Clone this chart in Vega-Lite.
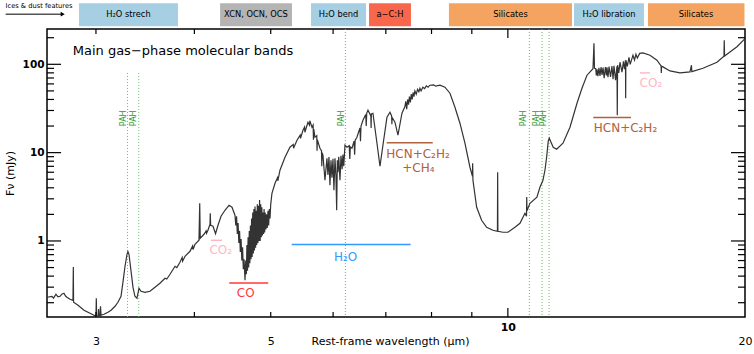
{
  "$schema": "https://vega.github.io/schema/vega-lite/v6.json",
  "width": 698,
  "height": 288,
  "autosize": {"type": "none"},
  "padding": {"left": 47, "top": 29, "right": 9, "bottom": 37},
  "background": "white",
  "config": {
    "view": {"stroke": "black", "strokeWidth": 1.5},
    "font": "DejaVu Sans",
    "axis": {"domain": false, "grid": false, "labelColor": "black", "titleColor": "black", "labelFont": "DejaVu Sans", "titleFont": "DejaVu Sans"}
  },
  "datasets": {
    "spec": [
      {"w":2.600,"f":0.2304},{"w":2.638,"f":0.2364},{"w":2.650,"f":0.2250},{"w":2.669,"f":0.2490},{"w":2.685,"f":0.2330},{"w":2.701,"f":0.2364},{"w":2.715,"f":0.2500},{"w":2.732,"f":0.2556},{"w":2.745,"f":0.2380},{"w":2.756,"f":0.2304},{"w":2.781,"f":0.2187},{"w":2.805,"f":0.2130},{"w":2.808,"f":0.5077},{"w":2.810,"f":0.2022},{"w":2.847,"f":0.1870},{"w":2.897,"f":0.1641},{"w":2.948,"f":0.1518},{"w":2.983,"f":0.1441},{"w":3.000,"f":0.1404},{"w":3.003,"f":0.2244},{"w":3.006,"f":0.1404},{"w":3.020,"f":0.1420},{"w":3.023,"f":0.1700},{"w":3.026,"f":0.1420},{"w":3.035,"f":0.1404},{"w":3.040,"f":0.1822},{"w":3.045,"f":0.1441},{"w":3.071,"f":0.1479},{"w":3.107,"f":0.1558},{"w":3.135,"f":0.1641},{"w":3.172,"f":0.1822},{"w":3.199,"f":0.2022},{"w":3.228,"f":0.2364},{"w":3.246,"f":0.3404},{"w":3.266,"f":0.5170},{"w":3.285,"f":0.7069},{"w":3.294,"f":0.7600},{"w":3.304,"f":0.7069},{"w":3.323,"f":0.4658},{"w":3.343,"f":0.2990},{"w":3.362,"f":0.2364},{"w":3.382,"f":0.2244},{"w":3.402,"f":0.2913},{"w":3.422,"f":0.2694},{"w":3.462,"f":0.2624},{"w":3.513,"f":0.2694},{"w":3.565,"f":0.2990},{"w":3.617,"f":0.3319},{"w":3.671,"f":0.3780},{"w":3.690,"f":0.3700},{"w":3.725,"f":0.4197},{"w":3.780,"f":0.5170},{"w":3.800,"f":0.5000},{"w":3.835,"f":0.5739},{"w":3.860,"f":0.6500},{"w":3.865,"f":0.5900},{"w":3.892,"f":0.6712},{"w":3.949,"f":0.7643},{"w":3.980,"f":0.8800},{"w":3.985,"f":0.8000},{"w":4.007,"f":0.9176},{"w":4.054,"f":1.018},{"w":4.063,"f":2.673},{"w":4.069,"f":1.073},{"w":4.114,"f":1.191},{"w":4.140,"f":1.300},{"w":4.145,"f":1.220},{"w":4.162,"f":1.322},{"w":4.187,"f":1.546},{"w":4.190,"f":2.059},{"w":4.195,"f":1.50},{"w":4.224,"f":1.467},{"w":4.255,"f":1.21},{"w":4.286,"f":1.506},{"w":4.324,"f":1.905},{"w":4.374,"f":2.227},{"w":4.426,"f":2.537},{"w":4.465,"f":2.408},{"w":4.504,"f":1.955},{"w":4.515,"f":1.5},{"w":4.525,"f":1.9},{"w":4.535,"f":1.2},{"w":4.545,"f":1.6},{"w":4.555,"f":0.95},{"w":4.565,"f":1.3},{"w":4.575,"f":0.75},{"w":4.585,"f":1.05},{"w":4.595,"f":0.6},{"w":4.605,"f":0.85},{"w":4.615,"f":0.48},{"w":4.625,"f":0.62},{"w":4.638,"f":0.36},{"w":4.648,"f":0.6},{"w":4.656,"f":0.42},{"w":4.664,"f":0.9},{"w":4.672,"f":0.46},{"w":4.680,"f":1.1},{"w":4.688,"f":0.5},{"w":4.696,"f":1.3},{"w":4.704,"f":0.56},{"w":4.712,"f":1.5},{"w":4.720,"f":0.62},{"w":4.728,"f":1.8},{"w":4.736,"f":0.66},{"w":4.744,"f":2.1},{"w":4.752,"f":0.72},{"w":4.760,"f":2.3},{"w":4.768,"f":0.78},{"w":4.776,"f":2.45},{"w":4.784,"f":0.84},{"w":4.792,"f":2.2},{"w":4.800,"f":0.9},{"w":4.808,"f":2.6},{"w":4.816,"f":0.95},{"w":4.824,"f":2.5},{"w":4.832,"f":1.0},{"w":4.840,"f":2.9},{"w":4.848,"f":1.0},{"w":4.856,"f":2.6},{"w":4.864,"f":1.1},{"w":4.872,"f":2.4},{"w":4.880,"f":1.15},{"w":4.888,"f":2.1},{"w":4.896,"f":1.2},{"w":4.904,"f":2.3},{"w":4.912,"f":1.25},{"w":4.920,"f":2.1},{"w":4.930,"f":1.35},{"w":4.940,"f":2.0},{"w":4.950,"f":1.4},{"w":4.960,"f":2.2},{"w":4.970,"f":1.5},{"w":4.980,"f":2.3},{"w":4.990,"f":1.8},{"w":5.000,"f":2.6},{"w":5.018,"f":3.469},{"w":5.063,"f":4.503},{"w":5.100,"f":5.2},{"w":5.105,"f":4.8},{"w":5.137,"f":6.319},{"w":5.213,"f":8.871},{"w":5.289,"f":11.51},{"w":5.340,"f":12.4},{"w":5.345,"f":11.2},{"w":5.399,"f":13.81},{"w":5.450,"f":15.8},{"w":5.455,"f":14.5},{"w":5.494,"f":17.94},{"w":5.520,"f":19.5},{"w":5.525,"f":17.0},{"w":5.575,"f":22.10},{"w":5.600,"f":20.5},{"w":5.605,"f":23.0},{"w":5.641,"f":19.40},{"w":5.660,"f":20.5},{"w":5.665,"f":14.0},{"w":5.670,"f":18.5},{"w":5.690,"f":14.94},{"w":5.720,"f":15.5},{"w":5.725,"f":10.5},{"w":5.730,"f":14.0},{"w":5.774,"f":11.22},{"w":5.800,"f":10.5},{"w":5.805,"f":7.0},{"w":5.810,"f":10.0},{"w":5.825,"f":9.345},{"w":5.859,"f":4.869},{"w":5.893,"f":8.643},{"w":5.910,"f":5.6},{"w":5.928,"f":8.9},{"w":5.945,"f":4.272},{"w":5.963,"f":8.203},{"w":5.980,"f":5.2},{"w":5.998,"f":8.5},{"w":6.015,"f":3.751},{"w":6.033,"f":8.643},{"w":6.050,"f":5.5},{"w":6.063,"f":2.227},{"w":6.075,"f":8.2},{"w":6.086,"f":6.0},{"w":6.100,"f":9.0},{"w":6.122,"f":4.869},{"w":6.140,"f":9.2},{"w":6.160,"f":6.5},{"w":6.175,"f":9.5},{"w":6.190,"f":7.0},{"w":6.212,"f":12.13},{"w":6.248,"f":11.51},{"w":6.290,"f":12.0},{"w":6.300,"f":8.5},{"w":6.310,"f":11.6},{"w":6.340,"f":11.22},{"w":6.380,"f":13.5},{"w":6.390,"f":9.5},{"w":6.400,"f":13.8},{"w":6.433,"f":14.94},{"w":6.490,"f":19.0},{"w":6.500,"f":13.5},{"w":6.510,"f":20.0},{"w":6.547,"f":23.28},{"w":6.600,"f":27.0},{"w":6.610,"f":20.0},{"w":6.620,"f":28.0},{"w":6.644,"f":30.21},{"w":6.700,"f":26.0},{"w":6.705,"f":19.0},{"w":6.710,"f":27.5},{"w":6.741,"f":27.94},{"w":6.821,"f":12.78},{"w":6.881,"f":7.015},{"w":6.941,"f":12.13},{"w":7.023,"f":25.17},{"w":7.085,"f":28.68},{"w":7.120,"f":26.0},{"w":7.125,"f":21.0},{"w":7.130,"f":25.0},{"w":7.189,"f":22.10},{"w":7.252,"f":15.74},{"w":7.338,"f":27.94},{"w":7.400,"f":33.0},{"w":7.420,"f":38.0},{"w":7.440,"f":31.0},{"w":7.460,"f":40.0},{"w":7.480,"f":35.0},{"w":7.500,"f":43.0},{"w":7.520,"f":37.0},{"w":7.540,"f":46.0},{"w":7.560,"f":40.0},{"w":7.580,"f":48.0},{"w":7.600,"f":43.0},{"w":7.620,"f":50.0},{"w":7.650,"f":46.0},{"w":7.680,"f":52.0},{"w":7.710,"f":49.0},{"w":7.734,"f":53.62},{"w":7.760,"f":50.0},{"w":7.800,"f":55.0},{"w":7.840,"f":53.0},{"w":7.880,"f":57.0},{"w":7.920,"f":55.0},{"w":7.963,"f":57.99},{"w":8.050,"f":58.5},{"w":8.100,"f":56.5},{"w":8.200,"f":57.99},{"w":8.320,"f":55.04},{"w":8.443,"f":47.07},{"w":8.567,"f":32.68},{"w":8.693,"f":21.53},{"w":8.821,"f":12.78},{"w":8.951,"f":6.833},{"w":9.017,"f":5.404},{"w":9.022,"f":7.586},{"w":9.030,"f":4.869},{"w":9.128,"f":2.408},{"w":9.262,"f":1.716},{"w":9.399,"f":1.429},{"w":9.573,"f":1.322},{"w":9.700,"f":1.288},{"w":9.706,"f":5.998},{"w":9.713,"f":1.288},{"w":9.857,"f":1.255},{"w":10.003,"f":1.255},{"w":10.209,"f":1.429},{"w":10.360,"f":1.586},{"w":10.512,"f":2.059},{"w":10.560,"f":1.9},{"w":10.567,"f":3.15},{"w":10.575,"f":2.2},{"w":10.667,"f":2.673},{"w":10.887,"f":3.126},{"w":10.983,"f":4.057},{"w":11.080,"f":4.869},{"w":11.145,"f":6.319},{"w":11.200,"f":8.871},{"w":11.253,"f":13.46},{"w":11.286,"f":14.56},{"w":11.418,"f":11.51},{"w":11.532,"f":10.93},{"w":11.748,"f":12.78},{"w":11.991,"f":19.40},{"w":12.239,"f":36.26},{"w":12.419,"f":53.62},{"w":12.602,"f":75.26},{"w":12.825,"f":89.18},{"w":12.862,"f":173.4},{"w":12.881,"f":90.34},{"w":12.930,"f":89.0},{"w":12.950,"f":75.0},{"w":12.977,"f":88.0},{"w":13.010,"f":73.3},{"w":13.050,"f":91.0},{"w":13.090,"f":74.0},{"w":13.130,"f":92.73},{"w":13.170,"f":76.0},{"w":13.207,"f":92.0},{"w":13.250,"f":69.6},{"w":13.300,"f":93.0},{"w":13.340,"f":75.0},{"w":13.361,"f":92.73},{"w":13.400,"f":71.4},{"w":13.441,"f":94.0},{"w":13.500,"f":72.0},{"w":13.557,"f":95.18},{"w":13.600,"f":68.0},{"w":13.637,"f":96.0},{"w":13.700,"f":66.06},{"w":13.757,"f":95.18},{"w":13.769,"f":26.52},{"w":13.781,"f":97.68},{"w":13.830,"f":80.0},{"w":13.878,"f":105.6},{"w":13.959,"f":81.37},{"w":14.020,"f":108.0},{"w":14.060,"f":88.0},{"w":14.103,"f":111.3},{"w":14.111,"f":41.31},{"w":14.119,"f":111.3},{"w":14.180,"f":95.0},{"w":14.248,"f":120.0},{"w":14.300,"f":100.0},{"w":14.415,"f":126.8},{"w":14.480,"f":112.0},{"w":14.541,"f":130.0},{"w":14.600,"f":118.0},{"w":14.700,"f":133.0},{"w":14.842,"f":134.6},{"w":15.149,"f":126.8},{"w":15.462,"f":111.3},{"w":15.650,"f":96.0},{"w":15.660,"f":80.0},{"w":15.670,"f":95.0},{"w":15.736,"f":93.45},{"w":16.061,"f":84.20},{"w":16.537,"f":79.91},{"w":17.028,"f":82.02},{"w":17.103,"f":97.68},{"w":17.120,"f":82.5},{"w":17.688,"f":90.34},{"w":18.426,"f":105.6},{"w":18.807,"f":123.5},{"w":18.823,"f":187.5},{"w":18.840,"f":124.0},{"w":19.196,"f":140.7},{"w":19.536,"f":158.2},{"w":20.0,"f":195.0}
    ],
    "xminor": [{"v":3},{"v":4},{"v":5},{"v":6},{"v":7},{"v":8},{"v":9}],
    "xmajor": [{"v":10}],
    "yminor": [{"v":0.2},{"v":0.3},{"v":0.4},{"v":0.5},{"v":0.6},{"v":0.7},{"v":0.8},{"v":0.9},{"v":2},{"v":3},{"v":4},{"v":5},{"v":6},{"v":7},{"v":8},{"v":9},{"v":20},{"v":30},{"v":40},{"v":50},{"v":60},{"v":70},{"v":80},{"v":90},{"v":200}],
    "ymajor": [{"v":1},{"v":10},{"v":100}],
    "pah": [
      {"w":3.29,"top":79.9},{"w":3.40,"top":79.9},{"w":6.22,"top":251},{"w":10.65,"top":251},{"w":11.05,"top":251},{"w":11.28,"top":251}
    ],
    "pahlab": [
      {"w":3.259,"f":24.5},{"w":3.356,"f":24.5},{"w":6.157,"f":24.5},{"w":10.48,"f":24.5},{"w":10.88,"f":24.5},{"w":11.12,"f":24.5}
    ],
    "bands": [
      {"w1":4.199,"w2":4.336,"f":1.018,"cat":"CO2"},
      {"w1":4.429,"w2":4.964,"f":0.3344,"cat":"CO"},
      {"w1":5.316,"w2":7.526,"f":0.9104,"cat":"H2O"},
      {"w1":7.017,"w2":8.028,"f":12.94,"cat":"HCN"},
      {"w1":12.836,"w2":14.331,"f":24.98,"cat":"HCN"},
      {"w1":14.711,"w2":15.149,"f":79.9,"cat":"CO2"}
    ],
    "btext": [
      {"t":"CO₂","w":4.320,"f":0.7847,"cat":"CO2"},
      {"t":"CO","w":4.648,"f":0.2577,"cat":"CO"},
      {"t":"H₂O","w":6.224,"f":0.6657,"cat":"H2O"},
      {"t":"HCN+C₂H₂","w":7.691,"f":9.77,"cat":"HCN"},
      {"t":"+CH₄","w":7.70,"f":6.78,"cat":"HCN"},
      {"t":"HCN+C₂H₂","w":14.103,"f":19.24,"cat":"HCN"},
      {"t":"CO₂","w":15.19,"f":62.2,"cat":"CO2"}
    ],
    "boxes": [
      {"t":"H₂O strech","x1":2.855,"x2":3.813,"xm":3.299,"cat":"water"},
      {"t":"XCN, OCN, OCS","x1":4.312,"x2":5.321,"xm":4.789,"cat":"xcn"},
      {"t":"H₂O bend","x1":5.625,"x2":6.606,"xm":6.095,"cat":"water"},
      {"t":"a−C:H","x1":6.665,"x2":7.533,"xm":7.085,"cat":"ach"},
      {"t":"Silicates","x1":8.418,"x2":12.061,"xm":10.076,"cat":"sil"},
      {"t":"H₂O libration","x1":12.132,"x2":14.886,"xm":13.44,"cat":"water"},
      {"t":"Silicates","x1":15.061,"x2":19.97,"xm":17.33,"cat":"sil"}
    ]
  },
  "layer": [
    {
      "data": {"name": "boxes"},
      "mark": {"type": "rect", "clip": false},
      "encoding": {
        "x": {"field": "x1", "type": "quantitative", "scale": {"type": "log", "domain": [2.6, 20], "nice": false},
              "axis": {"orient": "bottom", "values": [3, 5, 20], "ticks": false, "labelPadding": 24, "labelBaseline": "middle", "labelFontSize": 11, "labelFlush": false, "labelExpr": "format(datum.value, '~g')",
                       "title": "Rest-frame wavelength (μm)", "titleX": 343, "titleY": 24, "titleBaseline": "middle", "titleFontSize": 11, "titleFontWeight": "normal"}},
        "x2": {"field": "x2"},
        "y": {"datum": 270, "type": "quantitative", "scale": {"type": "log", "domain": [0.1378, 251], "nice": false}, "axis": null},
        "y2": {"datum": 492},
        "fill": {"field": "cat", "type": "nominal", "scale": {"domain": ["water", "xcn", "ach", "sil"], "range": ["#a6cfe3", "#b4b4b4", "#f8664b", "#f4a460"]}, "legend": null}
      }
    },
    {
      "data": {"name": "boxes"},
      "mark": {"type": "text", "fontSize": 8.3, "color": "black", "font": "DejaVu Sans", "baseline": "middle", "align": "center"},
      "encoding": {
        "x": {"field": "xm", "type": "quantitative", "scale": {"type": "log", "domain": [2.6, 20], "nice": false}, "axis": null},
        "y": {"datum": 364.5, "type": "quantitative", "scale": {"type": "log", "domain": [0.1378, 251], "nice": false}, "axis": null},
        "text": {"field": "t"}
      }
    },
    {
      "data": {"name": "pah"},
      "mark": {"type": "rule", "color": "#66bb66", "strokeDash": [1, 2], "strokeWidth": 1},
      "encoding": {
        "x": {"field": "w", "type": "quantitative", "scale": {"type": "log", "domain": [2.6, 20], "nice": false}, "axis": null},
        "y": {"field": "top", "type": "quantitative", "scale": {"type": "log", "domain": [0.1378, 251], "nice": false}, "axis": null},
        "y2": {"datum": 0.1378}
      }
    },
    {
      "data": {"name": "spec"},
      "mark": {"type": "line", "color": "#333333", "strokeWidth": 1.2},
      "encoding": {
        "x": {"field": "w", "type": "quantitative", "scale": {"type": "log", "domain": [2.6, 20], "nice": false}, "axis": null},
        "y": {"field": "f", "type": "quantitative", "scale": {"type": "log", "domain": [0.1378, 251], "nice": false}, "axis": null}
      }
    },
    {
      "data": {"name": "xminor"},
      "mark": {"type": "rule", "color": "black", "strokeWidth": 1.2},
      "encoding": {
        "x": {"field": "v", "type": "quantitative", "scale": {"type": "log", "domain": [2.6, 20], "nice": false}, "axis": null},
        "y": {"datum": 0.1378, "type": "quantitative", "scale": {"type": "log", "domain": [0.1378, 251], "nice": false}, "axis": null},
        "y2": {"datum": 0.157}
      }
    },
    {
      "data": {"name": "xminor"},
      "mark": {"type": "rule", "color": "black", "strokeWidth": 1.2},
      "encoding": {
        "x": {"field": "v", "type": "quantitative", "scale": {"type": "log", "domain": [2.6, 20], "nice": false}, "axis": null},
        "y": {"datum": 220.3, "type": "quantitative", "scale": {"type": "log", "domain": [0.1378, 251], "nice": false}, "axis": null},
        "y2": {"datum": 251}
      }
    },
    {
      "data": {"name": "xmajor"},
      "mark": {"type": "rule", "color": "black", "strokeWidth": 1.2},
      "encoding": {
        "x": {"field": "v", "type": "quantitative", "scale": {"type": "log", "domain": [2.6, 20], "nice": false}, "axis": null},
        "y": {"datum": 0.1378, "type": "quantitative", "scale": {"type": "log", "domain": [0.1378, 251], "nice": false}, "axis": null},
        "y2": {"datum": 0.1743}
      }
    },
    {
      "data": {"name": "xmajor"},
      "mark": {"type": "rule", "color": "black", "strokeWidth": 1.2},
      "encoding": {
        "x": {"field": "v", "type": "quantitative", "scale": {"type": "log", "domain": [2.6, 20], "nice": false}, "axis": null},
        "y": {"datum": 198.4, "type": "quantitative", "scale": {"type": "log", "domain": [0.1378, 251], "nice": false}, "axis": null},
        "y2": {"datum": 251}
      }
    },
    {
      "data": {"name": "yminor"},
      "mark": {"type": "rule", "color": "black", "strokeWidth": 1.2},
      "encoding": {
        "x": {"datum": 2.6, "type": "quantitative", "scale": {"type": "log", "domain": [2.6, 20], "nice": false}, "axis": null},
        "x2": {"datum": 2.654},
        "y": {"field": "v", "type": "quantitative", "scale": {"type": "log", "domain": [0.1378, 251], "nice": false}, "axis": null}
      }
    },
    {
      "data": {"name": "yminor"},
      "mark": {"type": "rule", "color": "black", "strokeWidth": 1.2},
      "encoding": {
        "x": {"datum": 19.594, "type": "quantitative", "scale": {"type": "log", "domain": [2.6, 20], "nice": false}, "axis": null},
        "x2": {"datum": 20},
        "y": {"field": "v", "type": "quantitative", "scale": {"type": "log", "domain": [0.1378, 251], "nice": false}, "axis": null}
      }
    },
    {
      "data": {"name": "ymajor"},
      "mark": {"type": "rule", "color": "black", "strokeWidth": 1.2},
      "encoding": {
        "x": {"datum": 2.6, "type": "quantitative", "scale": {"type": "log", "domain": [2.6, 20], "nice": false}, "axis": null},
        "x2": {"datum": 2.709},
        "y": {"field": "v", "type": "quantitative", "scale": {"type": "log", "domain": [0.1378, 251], "nice": false}, "axis": null}
      }
    },
    {
      "data": {"name": "ymajor"},
      "mark": {"type": "rule", "color": "black", "strokeWidth": 1.2},
      "encoding": {
        "x": {"datum": 19.198, "type": "quantitative", "scale": {"type": "log", "domain": [2.6, 20], "nice": false}, "axis": null},
        "x2": {"datum": 20},
        "y": {"field": "v", "type": "quantitative", "scale": {"type": "log", "domain": [0.1378, 251], "nice": false}, "axis": null}
      }
    },
    {
      "data": {"name": "bands"},
      "mark": {"type": "rule", "strokeWidth": 1.4},
      "encoding": {
        "x": {"field": "w1", "type": "quantitative", "scale": {"type": "log", "domain": [2.6, 20], "nice": false}, "axis": null},
        "x2": {"field": "w2"},
        "y": {"field": "f", "type": "quantitative", "scale": {"type": "log", "domain": [0.1378, 251], "nice": false}, "axis": null},
        "color": {"field": "cat", "type": "nominal", "scale": {"domain": ["CO2", "CO", "H2O", "HCN"], "range": ["#ffb6c1", "#ff3a3a", "#3399ff", "#b0603c"]}, "legend": null}
      }
    },
    {
      "data": {"name": "btext"},
      "mark": {"type": "text", "fontSize": 12, "font": "DejaVu Sans", "baseline": "middle", "align": "center"},
      "encoding": {
        "x": {"field": "w", "type": "quantitative", "scale": {"type": "log", "domain": [2.6, 20], "nice": false}, "axis": null},
        "y": {"field": "f", "type": "quantitative", "scale": {"type": "log", "domain": [0.1378, 251], "nice": false}, "axis": null},
        "text": {"field": "t"},
        "color": {"field": "cat", "type": "nominal", "scale": {"domain": ["CO2", "CO", "H2O", "HCN"], "range": ["#ffb6c1", "#ff3a3a", "#3399ff", "#b0603c"]}, "legend": null}
      }
    },
    {
      "data": {"name": "pahlab"},
      "mark": {"type": "text", "angle": 270, "fontSize": 8, "color": "#2e9a2e", "font": "DejaVu Sans", "baseline": "middle", "align": "center"},
      "encoding": {
        "x": {"field": "w", "type": "quantitative", "scale": {"type": "log", "domain": [2.6, 20], "nice": false},
              "axis": {"orient": "bottom", "values": [10], "ticks": false, "labelPadding": 10, "labelBaseline": "middle", "labelFontSize": 11, "labelFontWeight": "bold", "labelFlush": false, "labelExpr": "format(datum.value, '~g')", "title": null}},
        "y": {"field": "f", "type": "quantitative", "scale": {"type": "log", "domain": [0.1378, 251], "nice": false},
              "axis": {"orient": "left", "values": [1, 10, 100], "ticks": false, "labelPadding": 3, "labelFontSize": 10.5, "labelFontWeight": "bold", "labelExpr": "format(datum.value, '~g')",
                       "title": "Fν (mJy)", "titleX": -37, "titleY": 144, "titleAngle": 270, "titleBaseline": "middle", "titleAlign": "center", "titleFontSize": 11, "titleFontWeight": "normal"}},
        "text": {"value": "PAH"}
      }
    },
    {
      "data": {"values": [{}]},
      "mark": {"type": "text", "fontSize": 13, "font": "DejaVu Sans", "color": "black", "align": "left", "baseline": "middle"},
      "encoding": {
        "x": {"datum": 2.803, "type": "quantitative", "scale": {"type": "log", "domain": [2.6, 20], "nice": false}, "axis": null},
        "y": {"datum": 141.8, "type": "quantitative", "scale": {"type": "log", "domain": [0.1378, 251], "nice": false}, "axis": null},
        "text": {"value": "Main gas−phase molecular bands"}
      }
    },
    {
      "data": {"values": [{}]},
      "mark": {"type": "text", "fontSize": 6.7, "font": "DejaVu Sans", "color": "black", "align": "center", "baseline": "middle"},
      "encoding": {
        "x": {"datum": 2.54, "type": "quantitative", "scale": {"type": "log", "domain": [2.6, 20], "nice": false}, "axis": null},
        "y": {"datum": 461, "type": "quantitative", "scale": {"type": "log", "domain": [0.1378, 251], "nice": false}, "axis": null},
        "text": {"value": "Ices & dust features"}
      }
    },
    {
      "data": {"values": [{}]},
      "mark": {"type": "rule", "color": "black", "strokeWidth": 1},
      "encoding": {
        "x": {"datum": 2.304, "type": "quantitative", "scale": {"type": "log", "domain": [2.6, 20], "nice": false}, "axis": null},
        "x2": {"datum": 2.716},
        "y": {"datum": 369.4, "type": "quantitative", "scale": {"type": "log", "domain": [0.1378, 251], "nice": false}, "axis": null}
      }
    },
    {
      "data": {"values": [{}]},
      "mark": {"type": "point", "shape": "triangle-right", "filled": true, "color": "black", "size": 22, "opacity": 1},
      "encoding": {
        "x": {"datum": 2.722, "type": "quantitative", "scale": {"type": "log", "domain": [2.6, 20], "nice": false}, "axis": null},
        "y": {"datum": 369.4, "type": "quantitative", "scale": {"type": "log", "domain": [0.1378, 251], "nice": false}, "axis": null}
      }
    }
  ],
  "resolve": {"axis": {"x": "independent", "y": "independent"}}
}
